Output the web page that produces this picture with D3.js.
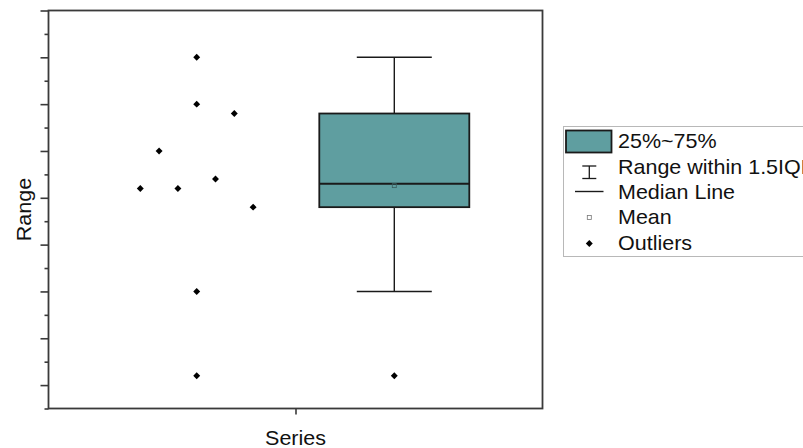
<!DOCTYPE html>
<html>
<head>
<meta charset="utf-8">
<script src="https://cdn.jsdelivr.net/npm/d3@7"></script>
<style>
  html, body { margin: 0; padding: 0; background: #fff; }
  svg { display: block; font-family: "Liberation Sans", Arial, sans-serif; }
</style>
</head>
<body>
<svg id="chart" width="803" height="448"></svg>
<script>
// ---- data ----
const categories = ["Series"];
const values = [70, 60, 58, 50, 44, 42, 42, 38, 20, 2];
const jitter = [0, 0, 2, -2, 1, -3, -1, 3, 0, 0];   // column index of each raw point
const yTicksMajor = [0, 10, 20, 30, 40, 50, 60, 70, 80];
const yTicksMinor = [-5, 5, 15, 25, 35, 45, 55, 65, 75];
const legendLabels = ["25%~75%", "Range within 1.5IQR", "Median Line", "Mean", "Outliers"];

// ---- statistics (Tukey hinges) ----
const sorted = values.slice().sort((a, b) => a - b);
const n = sorted.length;
const lowerHalf = sorted.slice(0, Math.ceil(n / 2));
const upperHalf = sorted.slice(Math.floor(n / 2));
const q1 = d3.median(lowerHalf);
const q3 = d3.median(upperHalf);
const med = d3.median(sorted);
const mean = d3.mean(sorted);
const iqr = q3 - q1;
const loFence = q1 - 1.5 * iqr, hiFence = q3 + 1.5 * iqr;
const whiskLo = d3.min(sorted.filter(v => v >= loFence));
const whiskHi = d3.max(sorted.filter(v => v <= hiFence));
const outliers = sorted.filter(v => v < loFence || v > hiFence);

// ---- layout ----
const svg = d3.select("#chart");
const L = 48.5, R = 542.5, T = 10.5, B = 408.5;

const y = d3.scaleLinear().domain([-5, 80]).range([B, T]);
const xCat = d3.scalePoint().domain(categories).range([L, R]).padding(0.5);
const xOff = d3.scaleLinear().domain([-1, 1]).range([L - xCat("Series"), R - xCat("Series")]);

const cx = xCat("Series");
const ptsX = cx + xOff(-0.4);
const boxX = cx + xOff(0.4);
const jitStep = 18.8;
const boxW = 150, capW = 75;
const ink = "#1a1a1a";
const teal = "#5F9EA0";
const FS = 20, SX = 1.075;

const diamond = d3.symbol().type(d3.symbolSquare).size(24);

// raw points
svg.append("g").selectAll("path").data(values).join("path")
  .attr("d", diamond)
  .attr("transform", (d, i) => `translate(${ptsX + jitter[i] * jitStep},${y(d)}) rotate(45)`)
  .attr("fill", "#000");

// box plot
const gb = svg.append("g");
gb.append("line").attr("x1", boxX).attr("x2", boxX).attr("y1", y(whiskHi)).attr("y2", y(q3))
  .attr("stroke", ink).attr("stroke-width", 1.4);
gb.append("line").attr("x1", boxX).attr("x2", boxX).attr("y1", y(q1)).attr("y2", y(whiskLo))
  .attr("stroke", ink).attr("stroke-width", 1.4);
[whiskHi, whiskLo].forEach(v => {
  gb.append("line").attr("x1", boxX - capW / 2).attr("x2", boxX + capW / 2)
    .attr("y1", y(v)).attr("y2", y(v)).attr("stroke", ink).attr("stroke-width", 1.4);
});
gb.append("rect").attr("x", boxX - boxW / 2).attr("width", boxW)
  .attr("y", y(q3)).attr("height", y(q1) - y(q3))
  .attr("fill", teal).attr("stroke", ink).attr("stroke-width", 1.8);
gb.append("line").attr("x1", boxX - boxW / 2).attr("x2", boxX + boxW / 2)
  .attr("y1", y(med)).attr("y2", y(med)).attr("stroke", ink).attr("stroke-width", 1.8);
gb.append("rect").attr("x", boxX - 2).attr("y", y(mean) - 2).attr("width", 4).attr("height", 4)
  .attr("fill", "none").attr("stroke", "#3a5e5e").attr("stroke-width", 0.8);
gb.selectAll("path.out").data(outliers).join("path").attr("class", "out")
  .attr("d", diamond)
  .attr("transform", d => `translate(${boxX},${y(d)}) rotate(45)`)
  .attr("fill", "#000");

// frame
svg.append("rect").attr("x", L).attr("y", T).attr("width", R - L).attr("height", B - T)
  .attr("fill", "none").attr("stroke", "#3a3a3a").attr("stroke-width", 1.8);

// y axis ticks
const yAxisMajor = d3.axisLeft(y).tickValues(yTicksMajor).tickSize(8).tickFormat("");
const yAxisMinor = d3.axisLeft(y).tickValues(yTicksMinor).tickSize(4).tickFormat("");
[yAxisMajor, yAxisMinor].forEach(ax => {
  const g = svg.append("g").attr("transform", `translate(${L},0)`).call(ax);
  g.select(".domain").remove();
  g.selectAll("line").attr("stroke", "#3a3a3a").attr("stroke-width", 1.6);
});

// x axis tick
const xAxis = d3.axisBottom(xCat).tickSize(6).tickFormat("");
const gx = svg.append("g").attr("transform", `translate(0,${B})`).call(xAxis);
gx.select(".domain").remove();
gx.selectAll("line").attr("stroke", "#3a3a3a").attr("stroke-width", 1.6);

// axis titles
svg.append("text").attr("transform", `translate(${cx},445) scale(${SX},1)`).attr("text-anchor", "middle")
  .attr("font-size", FS).attr("fill", "#111").text(categories[0]);
svg.append("text").attr("transform", `translate(31,${(T + B) / 2}) rotate(-90) scale(${SX},1)`)
  .attr("text-anchor", "middle").attr("font-size", FS).attr("fill", "#111").text("Range");

// legend
const lg = svg.append("g");
lg.append("rect").attr("x", 563.5).attr("y", 126.5).attr("width", 300).attr("height", 130)
  .attr("fill", "#fff").attr("stroke", "#b8b8b8").attr("stroke-width", 1);
const rowY = [141, 166.5, 191.5, 217, 242.5];
const symX = 589.3, txtX = 618;
lg.append("rect").attr("x", 566).attr("y", 130.5).attr("width", 45.5).attr("height", 22)
  .attr("fill", teal).attr("stroke", ink).attr("stroke-width", 1.8);
lg.append("line").attr("x1", symX).attr("x2", symX).attr("y1", 166).attr("y2", 178.5).attr("stroke", ink).attr("stroke-width", 1.3);
[166, 178.5].forEach(v => lg.append("line").attr("x1", symX - 7).attr("x2", symX + 7)
  .attr("y1", v).attr("y2", v).attr("stroke", ink).attr("stroke-width", 1.3));
lg.append("line").attr("x1", 575).attr("x2", 603.5).attr("y1", rowY[2]).attr("y2", rowY[2])
  .attr("stroke", ink).attr("stroke-width", 1.4);
lg.append("rect").attr("x", symX - 2).attr("y", rowY[3] - 1.5).attr("width", 4).attr("height", 4)
  .attr("fill", "#fff").attr("stroke", "#777").attr("stroke-width", 0.8);
lg.append("path").attr("d", diamond).attr("transform", `translate(${symX},${rowY[4] + 1}) rotate(45)`).attr("fill", "#000");
lg.selectAll("text").data(legendLabels).join("text")
  .attr("transform", (d, i) => `translate(${txtX},${rowY[i] + 7}) scale(${SX},1)`)
  .attr("font-size", FS).attr("fill", "#111").text(d => d);
</script>
</body>
</html>
